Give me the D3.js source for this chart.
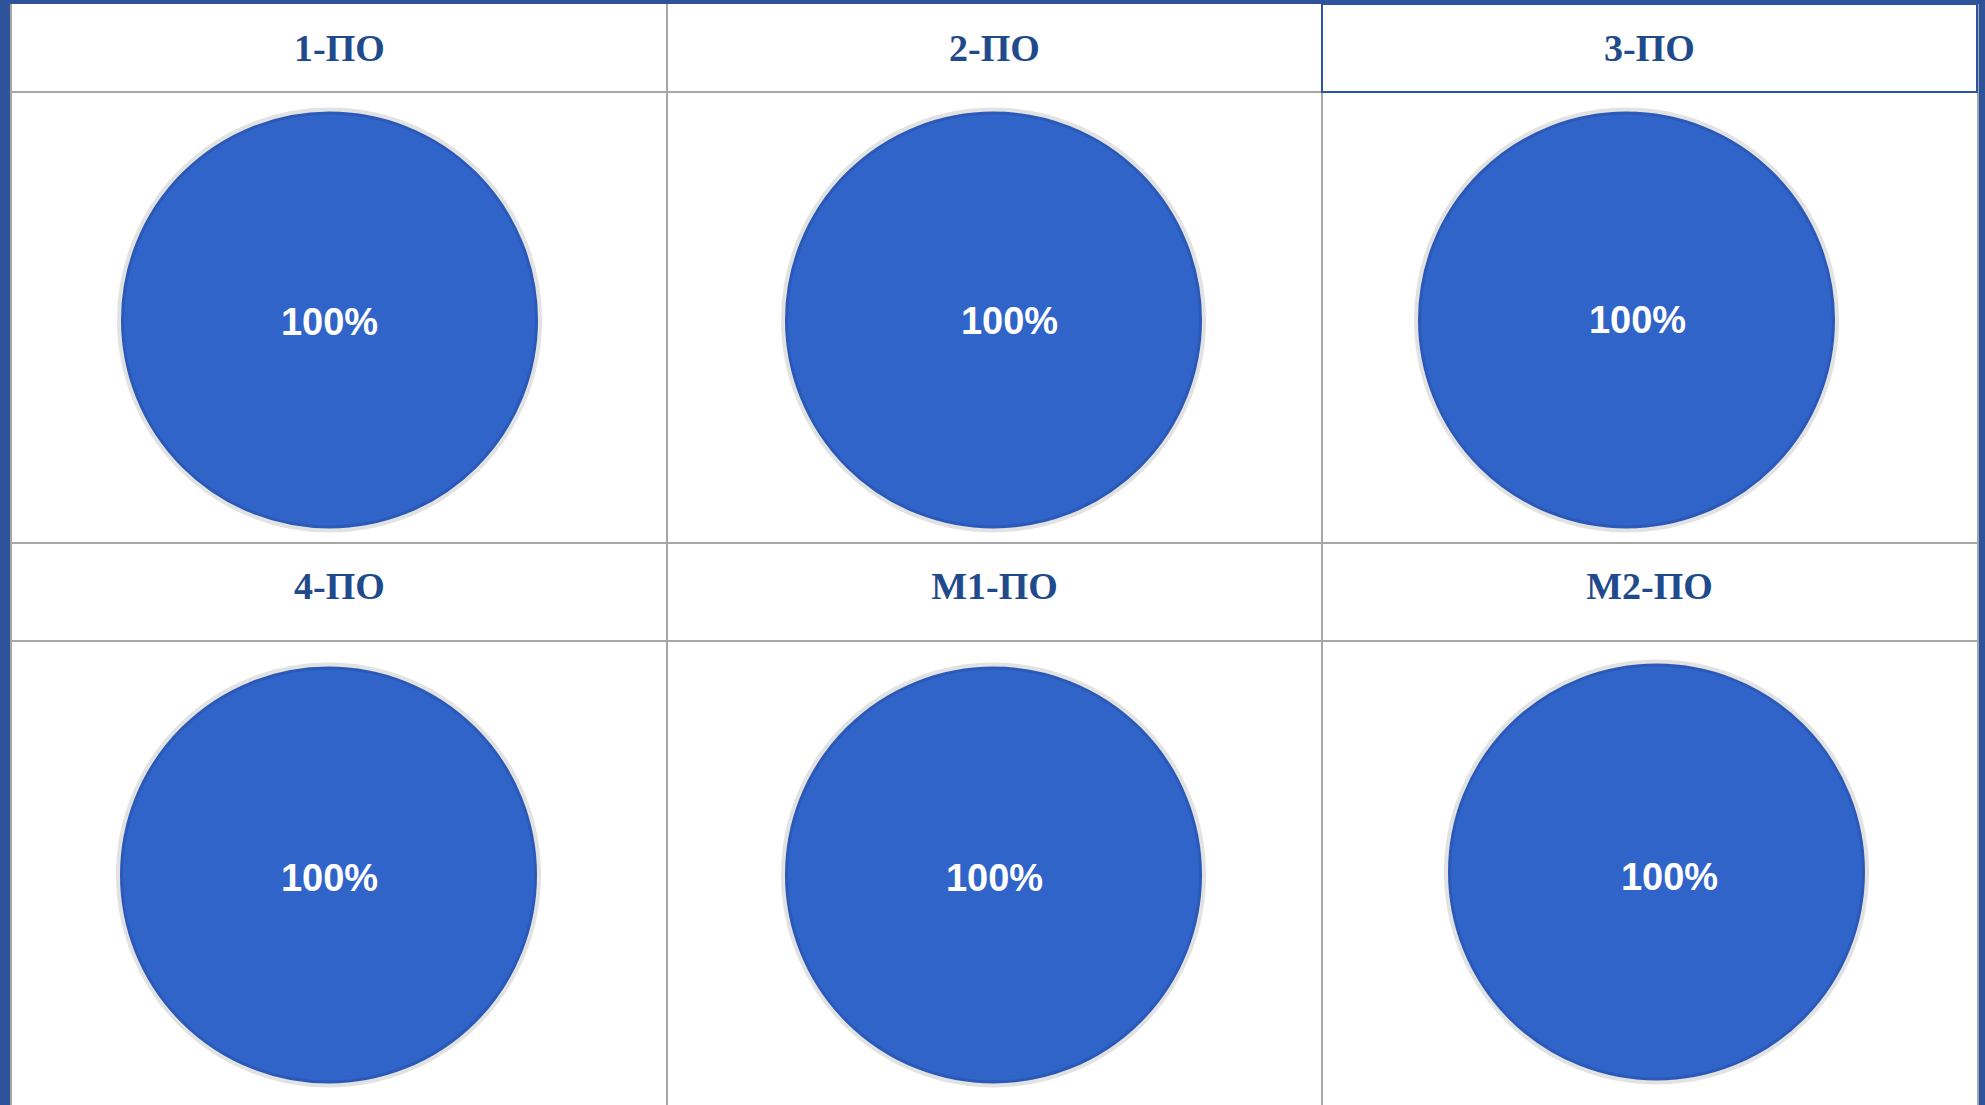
<!DOCTYPE html>
<html>
<head>
<meta charset="utf-8">
<script src="https://cdn.jsdelivr.net/npm/d3@7"></script>
<style>
  html, body { margin: 0; padding: 0; background: #2f539b; overflow: hidden; }
</style>
</head>
<body>
<div id="grid"></div>
<script>
// chart data
const groups = ["1-ПО", "2-ПО", "3-ПО", "4-ПО", "M1-ПО", "M2-ПО"];
const shares = [100, 100, 100, 100, 100, 100];
const selectedGroup = "3-ПО";

// layout
const width = 1985, height = 1105;
const leftX = 12, rightX = 1977, topY = 4;
const headerH = [88, 98];
const bodyH = [451, 480];
const radius = 207;
// small per-cell shifts of the pies and labels as seen in the picture
const pieNudge = [[-10, 2], [-1, 2], [-23, 2], [-11, 0], [-1, 0], [7, -3]];
const labelNudge = [[0, 1], [16, 0], [11, -1], [1, 2], [1, 2], [13, 4]];

const svg = d3.select("#grid")
  .append("svg")
    .attr("width", width)
    .attr("height", height)
    .style("display", "block");

// white table area
svg.append("rect")
  .attr("x", leftX - 2).attr("y", topY)
  .attr("width", rightX - leftX + 4).attr("height", height)
  .attr("fill", "#ffffff");

const x = d3.scaleBand()
  .domain(d3.range(3))
  .range([leftX, rightX]);

// row tops: header, body, header, body
const rowY = [topY, topY + headerH[0], topY + headerH[0] + bodyH[0], topY + headerH[0] + bodyH[0] + headerH[1]];

const pie = d3.pie().sort(null).value(function(d) { return d; });
const arc = d3.arc().innerRadius(0).outerRadius(radius);

const lineColor = "#a6a6a6";

// grid lines
const grid = svg.append("g").attr("class", "grid");
rowY.slice(1).forEach(function(y) {
  grid.append("line")
    .attr("x1", leftX).attr("x2", rightX)
    .attr("y1", y).attr("y2", y)
    .attr("stroke", lineColor).attr("stroke-width", 2);
});
[leftX - 1, x(1), x(2), rightX + 1].forEach(function(xx) {
  grid.append("line")
    .attr("x1", xx).attr("x2", xx)
    .attr("y1", topY).attr("y2", height)
    .attr("stroke", lineColor).attr("stroke-width", 2);
});

groups.forEach(function(g, i) {
  const col = i % 3, row = Math.floor(i / 3);
  const cx = x(col) + x.bandwidth() / 2;
  const hy = rowY[row * 2];
  const by = rowY[row * 2 + 1];

  // header text
  svg.append("text")
    .attr("x", cx)
    .attr("y", hy + headerH[row] / 2 - (row ? 6 : 0))
    .attr("dy", "0.35em")
    .attr("text-anchor", "middle")
    .style("font-family", "'Liberation Serif', 'Times New Roman', serif")
    .style("font-weight", "bold")
    .style("font-size", "38px")
    .attr("fill", "#1f4a8c")
    .text(g);

  if (g === selectedGroup) {
    svg.append("rect")
      .attr("x", x(col)).attr("y", hy)
      .attr("width", x.bandwidth()).attr("height", headerH[row])
      .attr("fill", "none")
      .attr("stroke", "#2a55a3")
      .attr("stroke-width", 2);
  }

  const pcx = cx + pieNudge[i][0];
  const pcy = by + 226 + (row ? 8 : 0) + pieNudge[i][1];

  const pieG = svg.append("g")
    .attr("transform", "translate(" + pcx + "," + pcy + ")");

  // soft grey halo
  pieG.append("circle")
    .attr("r", radius + 3)
    .attr("fill", "none")
    .attr("stroke", "#e2e2e2")
    .attr("stroke-width", 5);

  pieG.selectAll("path")
    .data(pie([shares[i]]))
    .enter()
    .append("path")
      .attr("d", arc)
      .attr("fill", "#3064c8")
      .attr("stroke", "#2a59b8")
      .attr("stroke-width", 3);

  pieG.append("text")
    .attr("x", labelNudge[i][0])
    .attr("y", labelNudge[i][1])
    .attr("dy", "0.36em")
    .attr("text-anchor", "middle")
    .style("font-family", "'Liberation Sans', Arial, sans-serif")
    .style("font-weight", "bold")
    .style("font-size", "38px")
    .attr("fill", "#ffffff")
    .text(shares[i] + "%");
});
</script>
</body>
</html>
